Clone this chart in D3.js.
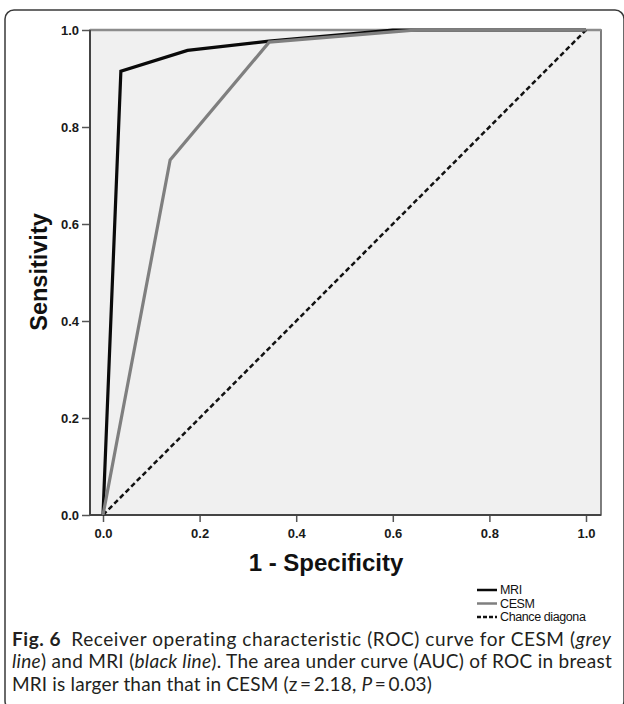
<!DOCTYPE html>
<html><head><meta charset="utf-8">
<script src="https://cdn.jsdelivr.net/npm/d3@7"></script>
<style>body{margin:0;background:#fff}svg{display:block}</style>
</head><body>
<svg id="c" width="624" height="704"></svg>
<script>
// Data
const mriFpr = [0, 0.037, 0.175, 0.344, 0.6, 1.0];
const mriTpr = [0, 0.915, 0.958, 0.977, 1.0, 1.0];
const cesmFpr = [0, 0.139, 0.344, 0.6, 0.65, 1.0];
const cesmTpr = [0, 0.732, 0.975, 0.996, 1.0, 1.0];
const chanceFpr = [0, 1];
const chanceTpr = [0, 1];
const ticks = [0, 0.2, 0.4, 0.6, 0.8, 1.0];
const legendLabels = ["MRI", "CESM", "Chance diagona"];

(function(){
const svg = d3.select("#c");
// outer rounded box
svg.append("rect").attr("x",5).attr("y",10).attr("width",619).attr("height",700)
  .attr("rx",9).attr("fill","none").attr("stroke","#3a3a3a").attr("stroke-width",1.5);

const x = d3.scaleLinear().domain([0,1]).range([103,586]);
const y = d3.scaleLinear().domain([0,1]).range([515,30]);
const pL = 90, pR = 601, pT = 30, pB = 515;

svg.append("rect").attr("x",pL).attr("y",pT).attr("width",pR-pL).attr("height",pB-pT)
  .attr("fill","#f0f0f0").attr("stroke","#555").attr("stroke-width",1.5);
svg.append("line").attr("x1",pL).attr("x2",pR).attr("y1",pT).attr("y2",pT)
  .attr("stroke","#8c8c8c").attr("stroke-width",2.5);

const fontAx = "'Liberation Sans', Arial, sans-serif";
// axes
const yAxis = d3.axisLeft(y).tickValues(ticks).tickFormat(d3.format(".1f")).tickSize(8).tickSizeOuter(0);
const gy = svg.append("g").attr("transform",`translate(${pL},0)`).call(yAxis);
const xAxis = d3.axisBottom(x).tickValues(ticks).tickFormat(d3.format(".1f")).tickSize(7).tickSizeOuter(0);
const gx = svg.append("g").attr("transform",`translate(0,${pB})`).call(xAxis);
[gx,gy].forEach(g=>{
  g.select(".domain").remove();
  g.selectAll(".tick line").attr("stroke","#555").attr("stroke-width",1.5);
  g.selectAll(".tick text").attr("fill","#1a1a1a").style("font-family",fontAx)
   .style("font-size","13px").style("font-weight","bold");
});
gy.selectAll(".tick text").attr("x",-11).attr("dy","0.35em");
gx.selectAll(".tick text").attr("y",14);
svg.append("line").attr("x1",pL).attr("x2",pL).attr("y1",pT).attr("y2",pB)
  .attr("stroke","#444").attr("stroke-width",2);
svg.append("line").attr("x1",pL).attr("x2",pR).attr("y1",pB).attr("y2",pB)
  .attr("stroke","#444").attr("stroke-width",2);

const line = d3.line().x(d=>x(d[0])).y(d=>y(d[1]));
const zip = (a,b)=>a.map((v,i)=>[v,b[i]]);
svg.append("path").datum(zip(chanceFpr,chanceTpr)).attr("d",line).attr("fill","none")
  .attr("stroke","#111").attr("stroke-width",2.5).attr("stroke-dasharray","5,3");
svg.append("path").datum(zip(mriFpr,mriTpr)).attr("d",line).attr("fill","none")
  .attr("stroke","#0a0a0a").attr("stroke-width",3.2).attr("stroke-linejoin","miter");
svg.append("path").datum(zip(cesmFpr,cesmTpr)).attr("d",line).attr("fill","none")
  .attr("stroke","#7f7f7f").attr("stroke-width",3.2);

// axis titles
svg.append("text").attr("x",326).attr("y",571).attr("text-anchor","middle")
  .style("font-family",fontAx).style("font-size","24px").style("font-weight","bold")
  .attr("fill","#111").text("1 - Specificity");
svg.append("text").attr("transform","translate(47,272) rotate(-90)").attr("text-anchor","middle")
  .style("font-family",fontAx).style("font-size","23.5px").style("font-weight","bold")
  .attr("fill","#111").text("Sensitivity");

// legend
const lg = svg.append("g");
const lstyles = [{c:"#0a0a0a",d:null},{c:"#7f7f7f",d:null},{c:"#111",d:"4,2"}];
legendLabels.forEach((t,i)=>{
  const yy = 590 + i*13.5;
  lg.append("line").attr("x1",477).attr("x2",497).attr("y1",yy).attr("y2",yy)
    .attr("stroke",lstyles[i].c).attr("stroke-width",2.5).attr("stroke-dasharray",lstyles[i].d);
  lg.append("text").attr("x",500).attr("y",yy).attr("dy","0.35em")
    .style("font-family",fontAx).style("font-size","12.5px").attr("fill","#111")
    .style("letter-spacing","-0.4px").text(t);
});

// caption
const capFont = "Lato, 'Open Sans', sans-serif";
const cap = svg.append("g").style("font-family",capFont).style("font-size","19px").attr("fill","#231f20");
const l1 = cap.append("text").attr("x",12).attr("y",646);
l1.append("tspan").style("font-weight","bold").text("Fig. 6");
l1.append("tspan").text("\u2002Receiver operating characteristic (ROC) curve for CESM (");
l1.append("tspan").style("font-style","italic").text("grey");
const l2 = cap.append("text").attr("x",12).attr("y",668);
l2.append("tspan").style("font-style","italic").text("line");
l2.append("tspan").text(") and MRI (");
l2.append("tspan").style("font-style","italic").text("black line");
l2.append("tspan").text("). The area under curve (AUC) of ROC in breast");
const l3 = cap.append("text").attr("x",12).attr("y",691);
l3.append("tspan").text("MRI is larger than that in CESM (z\u2009=\u20092.18, ");
l3.append("tspan").style("font-style","italic").text("P");
l3.append("tspan").text("\u2009=\u20090.03)");
// fit lines to the reference widths via letter spacing
const fit = (t, target) => {
  const n = t.text().length;
  const w = t.node().getComputedTextLength();
  t.style("letter-spacing", ((target - w) / n) + "px");
};
fit(l1, 600); fit(l2, 600); fit(l3, 420);
})();
</script>
</body></html>
